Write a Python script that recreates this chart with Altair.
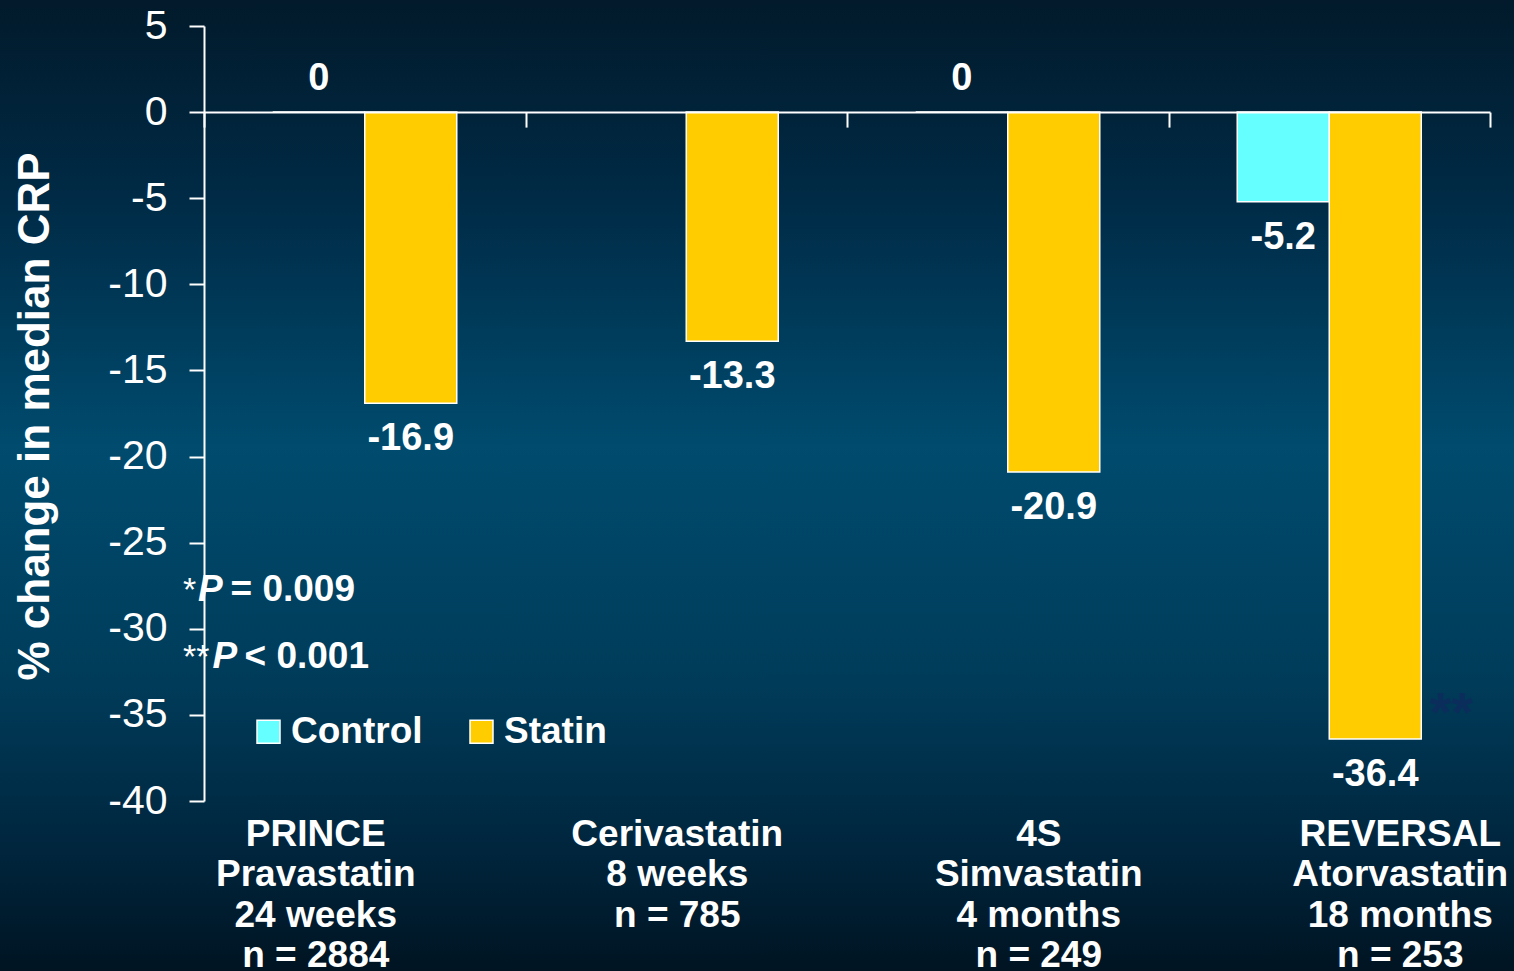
import altair as alt
import pandas as pd

# Study labels (lines separated by "|") and % change in median CRP per arm
studies = [
    "PRINCE|Pravastatin|24 weeks|n = 2884",
    "Cerivastatin|8 weeks|n = 785",
    "4S|Simvastatin|4 months|n = 249",
    "REVERSAL|Atorvastatin|18 months|n = 253",
]
control_change = [0, None, 0, -5.2]
statin_change = [-16.9, -13.3, -20.9, -36.4]
statin_marks = ["", "", "", "**"]

groups = ["Control", "Statin"]
group_colors = ["#66ffff", "#ffcc00"]

y_ticks = [5, 0, -5, -10, -15, -20, -25, -30, -35, -40]

p_stars = ["*", "**"]
p_symbol = "P"
p_values = ["= 0.009", "< 0.001"]

FONT = "Liberation Sans"

rows = []
for study, c, s, mark in zip(studies, control_change, statin_change, statin_marks):
    if c is not None:
        rows.append({"study": study, "group": "Control", "change": c, "sig": ""})
    rows.append({"study": study, "group": "Statin", "change": s, "sig": mark})
df = pd.DataFrame(rows)
df["label"] = df["change"].map(lambda v: f"{v:g}")

x_scale = alt.Scale(paddingInner=0, paddingOuter=0)
offset_scale = alt.Scale(domain=groups, paddingInner=0, paddingOuter=0.747)
y_scale = alt.Scale(domain=[-40, 5], nice=False, zero=False)

base = alt.Chart(df)

# page background: vertical navy-teal gradient
background = alt.Chart(pd.DataFrame({"k": [0]})).mark_rect(
    color=alt.LinearGradient(
        gradient="linear",
        stops=[
            alt.GradientStop(color="#021a2b", offset=0),
            alt.GradientStop(color="#002a45", offset=0.2),
            alt.GradientStop(color="#004b6e", offset=0.46),
            alt.GradientStop(color="#003c5a", offset=0.7),
            alt.GradientStop(color="#00263e", offset=0.87),
            alt.GradientStop(color="#001422", offset=1),
        ],
        x1=0, x2=0, y1=0, y2=1,
    )
).encode(
    x=alt.value(-204), x2=alt.value(1310), y=alt.value(-26), y2=alt.value(945)
)

# axis along the zero line, ticks at study boundaries
zero_axis = alt.Axis(
    orient="bottom", offset=-688.9, labels=False, title=None, grid=False,
    domain=True, domainColor="white", domainWidth=2,
    ticks=True, tickBand="extent", tickColor="white", tickWidth=2, tickSize=15,
    zindex=1,
)

# axis carrying the study names under the plot
label_axis = alt.Axis(
    orient="bottom", title=None, grid=False, domain=False, ticks=False,
    labelAngle=0, labelAlign="center", labelBaseline="top",
    labelExpr="split(datum.label, '|')",
    labelOffset={"expr": "-49 + 120 * datum.index"},
    labelFont=FONT, labelFontSize=37, labelFontWeight="bold",
    labelColor="white", labelLineHeight=40.5, labelPadding=15,
    labelLimit=500, zindex=1,
)

y_axis = alt.Axis(
    values=y_ticks, labelExpr="toString(datum.value)", grid=False,
    title="% change in median CRP", titleFont=FONT, titleFontSize=44,
    titleFontWeight="bold", titleColor="white", titleAngle=270,
    titleX=-169, titleY=390, titleAlign="center", titleBaseline="middle",
    labelFont=FONT, labelFontSize=41, labelFontWeight="normal",
    labelColor="white", labelPadding=22,
    domain=True, domainColor="white", domainWidth=2,
    ticks=True, tickColor="white", tickWidth=2, tickSize=15, zindex=1,
)

legend = alt.Legend(
    orient="none", legendX=46, legendY=687, direction="horizontal",
    title=None, symbolType="square", symbolSize=529,
    symbolStrokeColor="white", symbolStrokeWidth=1.5,
    labelFont=FONT, labelFontSize=37, labelFontWeight="bold",
    labelColor="white", labelOffset=4, columnPadding=40, padding=0,
)

bars = base.mark_bar(stroke="white", strokeWidth=1.5).encode(
    x=alt.X("study:N", sort=studies, scale=x_scale, axis=zero_axis),
    xOffset=alt.XOffset("group:N", sort=groups, scale=offset_scale),
    y=alt.Y("change:Q", scale=y_scale, axis=y_axis),
    y2=alt.datum(0),
    color=alt.Color("group:N", scale=alt.Scale(domain=groups, range=group_colors),
                    legend=legend),
)

text_style = dict(font=FONT, fontSize=38, fontWeight="bold", baseline="middle",
                  align="center")

neg_labels = base.transform_filter("datum.change < 0").mark_text(
    dy=36, color="white", **text_style
).encode(
    x=alt.X("study:N", sort=studies, scale=x_scale, axis=label_axis),
    xOffset=alt.XOffset("group:N", sort=groups, scale=offset_scale),
    y=alt.Y("change:Q", scale=y_scale),
    text="label:N",
)

zero_labels = base.transform_filter("datum.change == 0").mark_text(
    dy=-33, color="white", **text_style
).encode(
    x=alt.X("study:N", sort=studies, scale=x_scale, axis=None),
    xOffset=alt.XOffset("group:N", sort=groups, scale=offset_scale),
    y=alt.Y("change:Q", scale=y_scale),
    text="label:N",
)

# significance marker beside the statin bar
sig_labels = base.transform_filter("datum.sig != ''").mark_text(
    dx=76, dy=-8, color="#0b2d5c", font=FONT, fontSize=56, fontWeight="bold",
    baseline="alphabetic", align="center",
).encode(
    x=alt.X("study:N", sort=studies, scale=x_scale, axis=None),
    xOffset=alt.XOffset("group:N", sort=groups, scale=offset_scale),
    y=alt.Y("change:Q", scale=y_scale),
    text="sig:N",
)

# P-value footnotes
note_layers = []
note_rows = [(575, -21, -6, 26.5), (642, -21, 8.4, 40.5)]
for (yb, xs, xp, xv), star, val in zip(note_rows, p_stars, p_values):
    one = alt.Chart(pd.DataFrame({"t": [star]}))
    note_layers.append(one.mark_text(
        font=FONT, fontSize=34, fontWeight="normal", color="white",
        align="left", baseline="alphabetic", text=star
    ).encode(x=alt.value(xs), y=alt.value(yb)))
    note_layers.append(one.mark_text(
        font=FONT, fontSize=37, fontWeight="bold", fontStyle="italic",
        color="white", align="left", baseline="alphabetic", text=p_symbol
    ).encode(x=alt.value(xp), y=alt.value(yb)))
    note_layers.append(one.mark_text(
        font=FONT, fontSize=37, fontWeight="bold", color="white",
        align="left", baseline="alphabetic", text=val
    ).encode(x=alt.value(xv), y=alt.value(yb)))

chart = alt.layer(
    background, bars, neg_labels, zero_labels, sig_labels, *note_layers
).resolve_axis(x="independent").properties(
    width=1286, height=775,
    autosize=alt.AutoSizeParams(type="none"),
    padding={"left": 204, "top": 26, "right": 24, "bottom": 170},
    background="#002a44",
).configure_view(stroke=None)

chart.save("out.html", embed_options={"renderer": "svg", "actions": False})
